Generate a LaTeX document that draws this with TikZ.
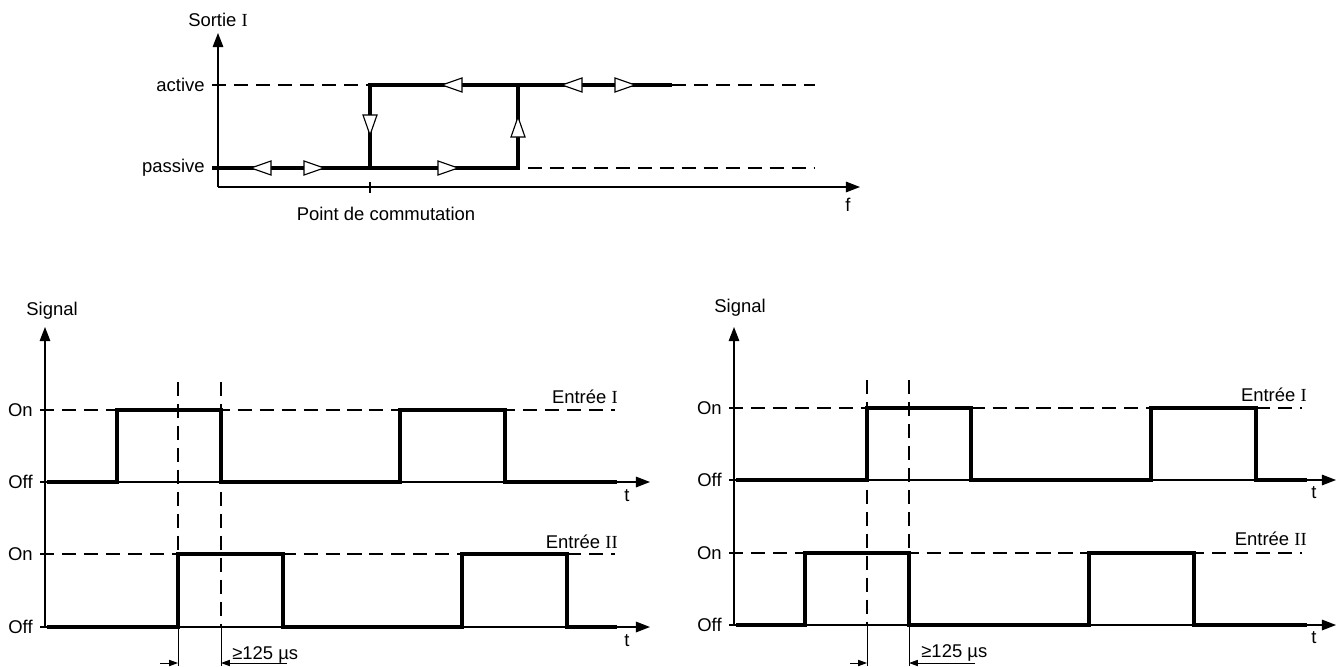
\documentclass[tikz,border=0pt]{standalone}
\usepackage{fontspec}
\setmainfont{Liberation Sans}
\newfontfamily\romfont{Liberation Serif}
\usetikzlibrary{arrows.meta}

\tikzset{
  axis/.style={line width=0.75pt, -{Triangle[length=8pt,width=6pt]}},
  level/.style={line width=0.65pt, dash pattern=on 8pt off 4.5pt},
  sig/.style={line width=2pt},
  dim/.style={line width=0.55pt, -{Triangle[length=5pt,width=3.5pt]}},
  lbl/.style={inner sep=0pt, font=\fontsize{10.5}{12}\selectfont},
  flowtip/.pic={\filldraw[fill=white, line width=0.65pt] (-10,-7) -- (10,0) -- (-10,7) -- cycle;},
}

\begin{document}
\begin{tikzpicture}[x=0.02cm, y=-0.02cm]
        \useasboundingbox (0,0) rectangle (1337,666);

        % ---- Hysteresis: Sortie I over f ----
        \draw[axis] (218,187) -- (218,33);
        \draw[axis] (218,187) -- (860,187);
        \draw[line width=0.75pt] (370,182) -- (370,193);
        \node[lbl] (sortie) at (218,20) {Sortie {\romfont I}};
        \node[lbl, anchor=east] (active) at (205,85) {active};
        \node[lbl, anchor=east] (passive) at (205,168) {passive};
        \node[lbl] (commut) at (386,214) {Point de commutation};
        \node[lbl] (f) at (848,205) {f};

        % levels
        \draw[level] (212,85) -- (370,85);
        \draw[level] (672,85) -- (815,85);
        \draw[level] (528,168) -- (815,168);

        % switching path
        \draw[sig] (212,168) -- (518,168) -- (518,85) -- (672,85);
        \draw[sig] (370,168) -- (370,85) -- (518,85);

        % direction marks
        \pic[rotate=180] at (261,168) {flowtip};
        \pic at (314,168) {flowtip};
        \pic at (448,168) {flowtip};
        \pic[rotate=180] at (452,85) {flowtip};
        \pic[rotate=180] at (572,85) {flowtip};
        \pic at (625,85) {flowtip};
        \pic[rotate=-90] at (370,125) {flowtip};
        \pic[rotate=90] at (518,127) {flowtip};

        % ---- Left timing diagram ----
        \draw[axis] (45,627) -- (45,327);
        \draw[axis] (45,482) -- (650,482);
        \draw[axis] (45,627) -- (650,627);
        \draw[line width=0.75pt] (40,482) -- (45,482) (40,627) -- (45,627);
        \node[lbl] (sigL) at (52,311) {Signal};
        \node[lbl, anchor=east] (onLa) at (33,410) {On};
        \node[lbl, anchor=east] (offLa) at (33,482) {Off};
        \node[lbl, anchor=east] (onLb) at (33,554) {On};
        \node[lbl, anchor=east] (offLb) at (33,627) {Off};
        \node[lbl] (tLa) at (627,496) {t};
        \node[lbl] (tLb) at (627,641) {t};
        \node[lbl, anchor=east] (inLa) at (618,397) {Entrée {\romfont I}};
        \node[lbl, anchor=east] (inLb) at (618,542) {Entrée {\romfont II}};

        \draw[level] (40,410) -- (615,410);
        \draw[level] (40,554) -- (615,554);

        \draw[sig] (47,482) -- (117,482) -- (117,410) -- (221,410) -- (221,482) -- (400,482)
                -- (400,410) -- (505,410) -- (505,482) -- (617,482);
        \draw[sig] (47,627) -- (178,627) -- (178,554) -- (283,554) -- (283,627) -- (462,627)
                -- (462,554) -- (567,554) -- (567,627) -- (617,627);

        % overlap
        \draw[level] (178,382) -- (178,627);
        \draw[level] (221,382) -- (221,627);
        \draw[line width=0.55pt] (178,627) -- (178,666) (221,627) -- (221,666);
        \draw[dim] (160,663) -- (178,663);
        \draw[dim] (287,663) -- (221,663);
        \node[lbl, anchor=west] (gapL) at (232,655) {≥125 µs};

        % ---- Right timing diagram ----
        \draw[axis] (734,625) -- (734,327);
        \draw[axis] (734,480) -- (1336,480);
        \draw[axis] (734,625) -- (1336,625);
        \draw[line width=0.75pt] (729,480) -- (734,480) (729,625) -- (734,625);
        \node[lbl] (sigR) at (740,308) {Signal};
        \node[lbl, anchor=east] (onRa) at (722,408) {On};
        \node[lbl, anchor=east] (offRa) at (722,480) {Off};
        \node[lbl, anchor=east] (onRb) at (722,553) {On};
        \node[lbl, anchor=east] (offRb) at (722,625) {Off};
        \node[lbl] (tRa) at (1314,493) {t};
        \node[lbl] (tRb) at (1314,638) {t};
        \node[lbl, anchor=east] (inRa) at (1307,395) {Entrée {\romfont I}};
        \node[lbl, anchor=east] (inRb) at (1307,539) {Entrée {\romfont II}};

        \draw[level] (729,408) -- (1302,408);
        \draw[level] (729,553) -- (1302,553);

        \draw[sig] (736,480) -- (867,480) -- (867,408) -- (971,408) -- (971,480) -- (1151,480)
                -- (1151,408) -- (1256,408) -- (1256,480) -- (1307,480);
        \draw[sig] (736,625) -- (805,625) -- (805,553) -- (909,553) -- (909,625) -- (1089,625)
                -- (1089,553) -- (1194,553) -- (1194,625) -- (1307,625);

        % overlap
        \draw[level] (867,380) -- (867,625);
        \draw[level] (909,380) -- (909,625);
        \draw[line width=0.55pt] (867,625) -- (867,666) (909,625) -- (909,666);
        \draw[dim] (850,663) -- (867,663);
        \draw[dim] (975,663) -- (909,663);
        \node[lbl, anchor=west] (gapR) at (921,653) {≥125 µs};
    \end{tikzpicture}
\end{document}
